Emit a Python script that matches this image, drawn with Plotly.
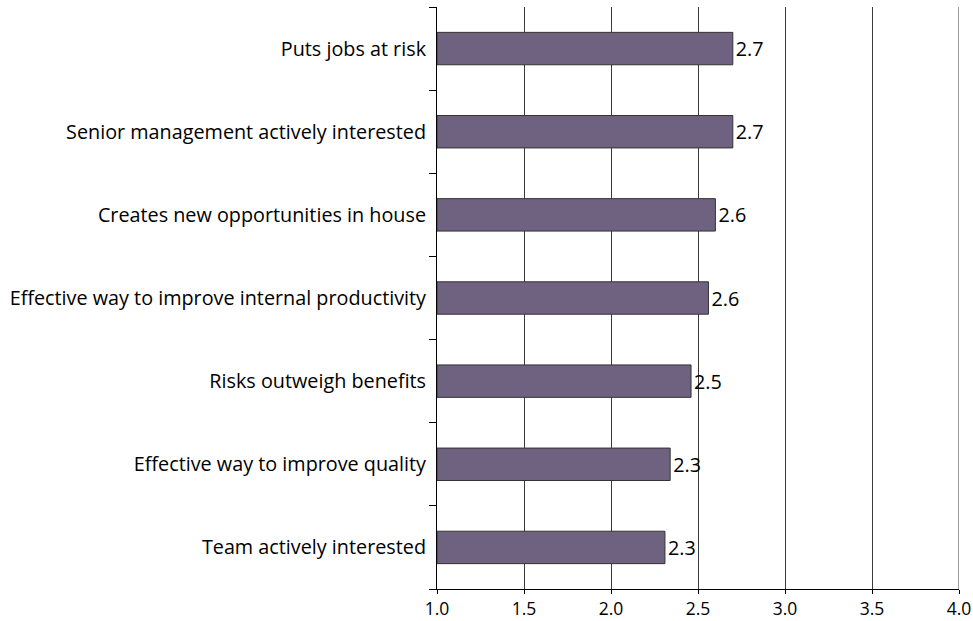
import plotly.graph_objects as go

# Survey items, listed top to bottom, with their mean scores
categories = [
    "Puts jobs at risk",
    "Senior management actively interested",
    "Creates new opportunities in house",
    "Effective way to improve internal productivity",
    "Risks outweigh benefits",
    "Effective way to improve quality",
    "Team actively interested",
]
scores = [2.70, 2.70, 2.60, 2.56, 2.46, 2.34, 2.31]

x_ticks = [1.0, 1.5, 2.0, 2.5, 3.0, 3.5, 4.0]
x_tick_labels = ["1.0", "1.5", "2.0", "2.5", "3.0", "3.5", "4.0"]

FONT = "Open Sans"
SIZE = 19.8

fig = go.Figure(
    go.Bar(
        y=categories,
        x=[s - 1.0 for s in scores],
        base=1.0,
        orientation="h",
        width=0.39,
        marker=dict(color="#6f6280", line=dict(color="#333333", width=1)),
        text=[f"{s:.1f}" for s in scores],
        textposition="outside",
        textfont=dict(family=FONT, size=SIZE, color="#000000"),
        cliponaxis=False,
        hoverinfo="skip",
    )
)

fig.update_layout(
    width=973,
    height=621,
    margin=dict(l=437, r=14, t=7, b=32, autoexpand=False),
    paper_bgcolor="#ffffff",
    plot_bgcolor="#ffffff",
    showlegend=False,
    font=dict(family=FONT, size=SIZE, color="#000000"),
    uniformtext=dict(minsize=SIZE, mode="show"),
    # right-hand gridline at 4.0 sits on the plot edge
    shapes=[
        dict(
            type="line", xref="x", yref="paper",
            x0=4.0, x1=4.0, y0=0, y1=1,
            line=dict(color="#3a3a3a", width=1),
        )
    ],
)

fig.update_xaxes(
    range=[1.0, 4.0],
    tickvals=x_ticks,
    ticktext=x_tick_labels,
    tickfont=dict(family=FONT, size=17.5, color="#000000"),
    ticklabelstandoff=0,
    showgrid=True,
    gridcolor="#3a3a3a",
    gridwidth=1,
    showline=True,
    linecolor="#000000",
    linewidth=1,
    ticks="outside",
    ticklen=4,
    tickcolor="#000000",
    zeroline=False,
    automargin=False,
    fixedrange=True,
)

fig.update_yaxes(
    categoryorder="array",
    categoryarray=categories[::-1],
    showgrid=False,
    showline=True,
    linecolor="#000000",
    linewidth=1,
    ticks="outside",
    tickson="boundaries",
    ticklen=7,
    tickcolor="#000000",
    ticklabelstandoff=6,
    zeroline=False,
    automargin=False,
    fixedrange=True,
)

fig.write_html("out.html")
